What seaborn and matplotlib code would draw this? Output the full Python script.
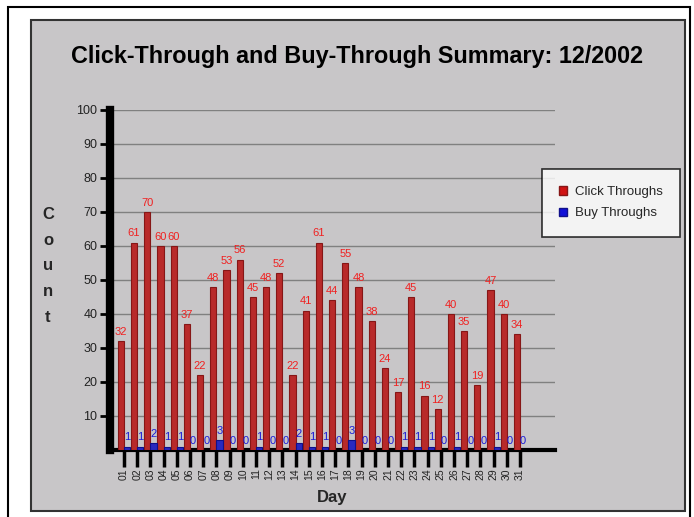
import matplotlib
matplotlib.use("Agg")
import matplotlib.pyplot as plt
import matplotlib.patches as mpatches
import seaborn as sns
import pandas as pd

days = [f"{d:02d}" for d in range(1, 32)]
click_throughs = [32, 61, 70, 60, 60, 37, 22, 48, 53, 56, 45, 48, 52, 22, 41,
                  61, 44, 55, 48, 38, 24, 17, 45, 16, 12, 40, 35, 19, 47, 40, 34]
buy_throughs = [1, 1, 2, 1, 1, 0, 0, 3, 0, 0, 1, 0, 0, 2, 1,
                1, 0, 3, 0, 0, 0, 1, 1, 1, 0, 1, 0, 0, 1, 0, 0]
series_names = ["Click Throughs", "Buy Throughs"]
y_ticks = [10, 20, 30, 40, 50, 60, 70, 80, 90, 100]

df = pd.DataFrame({
    "Day": days * 2,
    "Series": [series_names[0]] * len(days) + [series_names[1]] * len(days),
    "Count": click_throughs + buy_throughs,
})

sns.set_theme(style="white")
plt.rcParams["font.family"] = ["Liberation Sans", "DejaVu Sans"]

W, H = 694, 517
fig = plt.figure(figsize=(W / 100, H / 100), dpi=100, facecolor="white")

def fx(px):
    return px / W

def fy(py):
    return 1 - py / H

# outer frame and gray panel
outer = mpatches.Rectangle((fx(8), fy(530)), fx(690) - fx(8), fy(7) - fy(530),
                           transform=fig.transFigure, facecolor="white",
                           edgecolor="black", lw=1.5, zorder=-20)
panel = mpatches.Rectangle((fx(31), fy(511)), fx(685) - fx(31), fy(20) - fy(511),
                           transform=fig.transFigure, facecolor="#C8C6C8",
                           edgecolor="#333333", lw=1.5, zorder=-10)
fig.patches.extend([outer, panel])

ax = fig.add_axes([fx(110), fy(450), fx(555) - fx(110), fy(110) - fy(450)])
ax.set_facecolor("none")

palette = {series_names[0]: "#D01212", series_names[1]: "#1010D8"}
edges = {series_names[0]: "#861616", series_names[1]: "#10108A"}
sns.barplot(data=df, x="Day", y="Count", hue="Series", palette=palette,
            width=0.95, gap=0, ax=ax, legend=False, zorder=3)

for cont, name in zip(ax.containers, series_names):
    for bar in cont:
        bar.set_edgecolor(edges[name])
        bar.set_linewidth(0.8)
    color = "#F02020" if name == series_names[0] else "#1A1AD8"
    ax.bar_label(cont, labels=[str(int(b.get_height())) for b in cont],
                 padding=3, fontsize=8, color=color, zorder=4)

ax.set_xlim(-1.06, 32.65)
ax.set_ylim(0, 100)
ax.set_yticks(y_ticks)
ax.set_yticklabels([str(v) for v in y_ticks], fontsize=9, color="#222222")
ax.yaxis.grid(True, color="#808080", lw=1)
ax.set_axisbelow(True)

ax.tick_params(axis="x", bottom=True, direction="out", length=12, width=2.5,
               color="black", labelsize=7.5, labelrotation=90, pad=1)
ax.tick_params(axis="y", left=True, direction="out", length=7, width=2,
               color="black", pad=2)
for lab in ax.get_xticklabels():
    lab.set_color("#222222")

for side in ["top", "right"]:
    ax.spines[side].set_visible(False)
ax.spines["left"].set_linewidth(6)
ax.spines["left"].set_color("black")
ax.spines["bottom"].set_linewidth(3)
ax.spines["bottom"].set_color("black")

ax.set_xlabel("Day", fontsize=12, fontweight="bold", labelpad=7)
ax.set_ylabel("")
fig.text(fx(48), fy(266), "C\no\nu\nn\nt", fontsize=12, fontweight="bold",
         ha="center", va="center", linespacing=1.9)

fig.text(fx(357), fy(57), "Click-Through and Buy-Through Summary: 12/2002",
         fontsize=16.8, fontweight="bold", ha="center", va="center", color="black")

handles = [mpatches.Patch(facecolor=palette[n], edgecolor=edges[n], label=n)
           for n in series_names]
leg = fig.legend(handles=handles, loc="upper left",
                 bbox_to_anchor=(fx(542), fy(169)), frameon=True, fancybox=False,
                 edgecolor="black", facecolor="white", fontsize=9.5,
                 handlelength=0.6, handleheight=0.6, handletextpad=0.6,
                 borderpad=1.3, labelspacing=0.7, borderaxespad=0)
leg.get_frame().set_linewidth(1.2)

fig.savefig("out.png", dpi=100, facecolor="white")
